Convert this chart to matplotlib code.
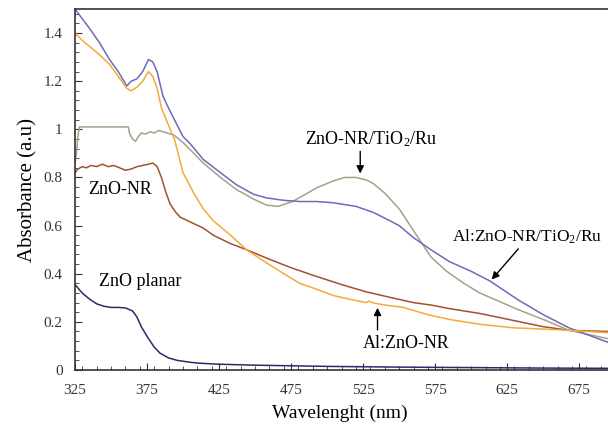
import matplotlib
matplotlib.use('Agg')
import matplotlib.pyplot as plt
from matplotlib.ticker import FixedLocator, MultipleLocator, FuncFormatter

plt.rcParams['font.family'] = ['Liberation Serif', 'DejaVu Serif']
plt.rcParams['mathtext.fontset'] = 'custom'
plt.rcParams['mathtext.rm'] = 'Liberation Serif'
plt.rcParams['mathtext.default'] = 'regular'

# Data
x_ticks = [325, 375, 425, 475, 525, 575, 625, 675]

wl_planar = [325, 330, 335, 340, 345, 350, 355, 360, 365, 368, 371, 375, 380, 384,
             390, 396, 405, 412, 425, 450, 500, 550, 600, 650, 695]
abs_planar = [0.355, 0.32, 0.295, 0.275, 0.265, 0.26, 0.26, 0.258, 0.245, 0.22, 0.18,
              0.14, 0.095, 0.07, 0.05, 0.04, 0.032, 0.028, 0.024, 0.02, 0.015, 0.012,
              0.01, 0.008, 0.007]

wl_nr = [325, 327, 330, 333, 336, 340, 344, 348, 352, 356, 360, 364, 368, 372, 376,
         379, 382, 385, 388, 391, 395, 398, 405, 414, 421, 433, 444, 458, 475, 492,
         510, 527, 545, 560, 572, 585, 606, 630, 650, 668, 695]
abs_nr = [0.82, 0.835, 0.845, 0.84, 0.85, 0.845, 0.855, 0.845, 0.85, 0.84, 0.83, 0.835,
          0.845, 0.85, 0.855, 0.86, 0.845, 0.80, 0.74, 0.69, 0.655, 0.635, 0.615, 0.59,
          0.56, 0.525, 0.50, 0.465, 0.425, 0.39, 0.355, 0.325, 0.30, 0.28, 0.27, 0.255,
          0.235, 0.205, 0.18, 0.165, 0.16]

wl_nr_ti = [325, 326, 327, 328, 362, 363, 365, 367, 369, 371, 374, 377, 380, 383, 386,
            389, 394, 400, 405, 414, 426, 437, 449, 458, 466, 476, 485, 492, 504, 512,
            520, 527, 532, 540, 550, 561, 572, 583, 595, 606, 633, 650, 668, 695]
abs_nr_ti = [0.86, 0.90, 0.97, 1.01, 1.01, 0.98, 0.96, 0.95, 0.97, 0.985, 0.98, 0.99,
             0.985, 0.995, 0.99, 0.985, 0.975, 0.945, 0.915, 0.86, 0.80, 0.75, 0.71,
             0.685, 0.68, 0.70, 0.73, 0.755, 0.785, 0.80, 0.80, 0.79, 0.775, 0.735, 0.67,
             0.57, 0.47, 0.41, 0.36, 0.32, 0.25, 0.21, 0.165, 0.13]

wl_al_ti = [325, 330, 335, 342, 349, 355, 358, 361, 364, 368, 372, 376, 379, 382, 386,
            389, 394, 400, 405, 414, 426, 437, 449, 458, 470, 481, 493, 504, 520, 532,
            542, 550, 560, 572, 585, 600, 613, 633, 650, 668, 695]
abs_al_ti = [1.50, 1.46, 1.42, 1.36, 1.29, 1.24, 1.21, 1.18, 1.20, 1.21, 1.24, 1.29,
             1.28, 1.24, 1.14, 1.10, 1.04, 0.97, 0.94, 0.875, 0.82, 0.77, 0.73, 0.715,
             0.705, 0.70, 0.70, 0.695, 0.68, 0.655, 0.625, 0.60, 0.55, 0.50, 0.45, 0.41,
             0.37, 0.29, 0.23, 0.175, 0.115]

wl_al = [325, 330, 336, 342, 349, 355, 361, 364, 368, 372, 376, 379, 382, 385, 389,
         394, 400, 407, 414, 421, 433, 444, 458, 470, 481, 493, 504, 515, 527, 529, 531,
         540, 553, 570, 585, 606, 630, 650, 668, 695]
abs_al = [1.40, 1.37, 1.34, 1.31, 1.27, 1.22, 1.17, 1.16, 1.175, 1.20, 1.24, 1.22, 1.17,
          1.09, 1.03, 0.96, 0.82, 0.74, 0.67, 0.62, 0.56, 0.50, 0.445, 0.40, 0.36, 0.335,
          0.31, 0.295, 0.28, 0.287, 0.28, 0.27, 0.26, 0.23, 0.21, 0.19, 0.175, 0.17,
          0.165, 0.155]

fig = plt.figure(figsize=(6.08, 4.32), dpi=100)
ax = fig.add_axes([75 / 608, 62 / 432, 533 / 608, 361 / 432])

ax.plot(wl_planar, abs_planar, color='#2b2b6b', lw=1.1)
ax.plot(wl_nr, abs_nr, color='#a0522d', lw=1.1)
ax.plot(wl_nr_ti, abs_nr_ti, color='#a89f8a', lw=1.1)
ax.plot(wl_al_ti, abs_al_ti, color='#6b6bb8', lw=1.1)
ax.plot(wl_al, abs_al, color='#f4a93a', lw=1.1)

ax.set_xlim(325, 695)
ax.set_ylim(0, 1.5)
ax.xaxis.set_major_locator(FixedLocator(x_ticks))
ax.xaxis.set_minor_locator(MultipleLocator(10))
ax.yaxis.set_major_locator(MultipleLocator(0.2))
ax.yaxis.set_minor_locator(MultipleLocator(0.04))
ax.yaxis.set_major_formatter(FuncFormatter(lambda v, p: f'{v:g}'))
ax.tick_params(which='both', direction='in', labelsize=11, colors='#333333')
ax.tick_params(which='major', length=5)
ax.tick_params(which='minor', length=3)
ax.tick_params(axis='x', pad=10)
ax.tick_params(axis='y', pad=9)
ax.spines['right'].set_visible(False)
for s in ['left', 'bottom', 'top']:
    ax.spines[s].set_color('#333333')
    ax.spines[s].set_linewidth(1.2)

ax.set_xlabel('Wavelenght (nm)', fontsize=14)
ax.set_ylabel('Absorbance (a.u)', fontsize=15)
ax.xaxis.set_label_coords(0.497, -0.095)
ax.yaxis.set_label_coords(-0.07, 0.5)

arrow = dict(arrowstyle='-|>', color='black', lw=1, mutation_scale=11)
ax.text(531, 0.958, r'ZnO-NR/TiO$_2$/Ru', fontsize=13, ha='center', va='center')
ax.annotate('', xy=(523, 0.805), xytext=(523, 0.92), arrowprops=arrow)
ax.text(334, 0.75, 'ZnO-NR', fontsize=13, ha='left', va='center')
ax.text(342, 0.367, 'ZnO planar', fontsize=13, ha='left', va='center')
ax.text(587, 0.554, r'Al:ZnO-NR/TiO$_2$/Ru', fontsize=12.5, ha='left', va='center',
        clip_on=False)
ax.annotate('', xy=(613, 0.367), xytext=(634, 0.512), arrowprops=arrow)
ax.text(555, 0.112, 'Al:ZnO-NR', fontsize=13, ha='center', va='center')
ax.annotate('', xy=(535, 0.27), xytext=(535, 0.155), arrowprops=arrow)

plt.savefig('out.png', dpi=100)
